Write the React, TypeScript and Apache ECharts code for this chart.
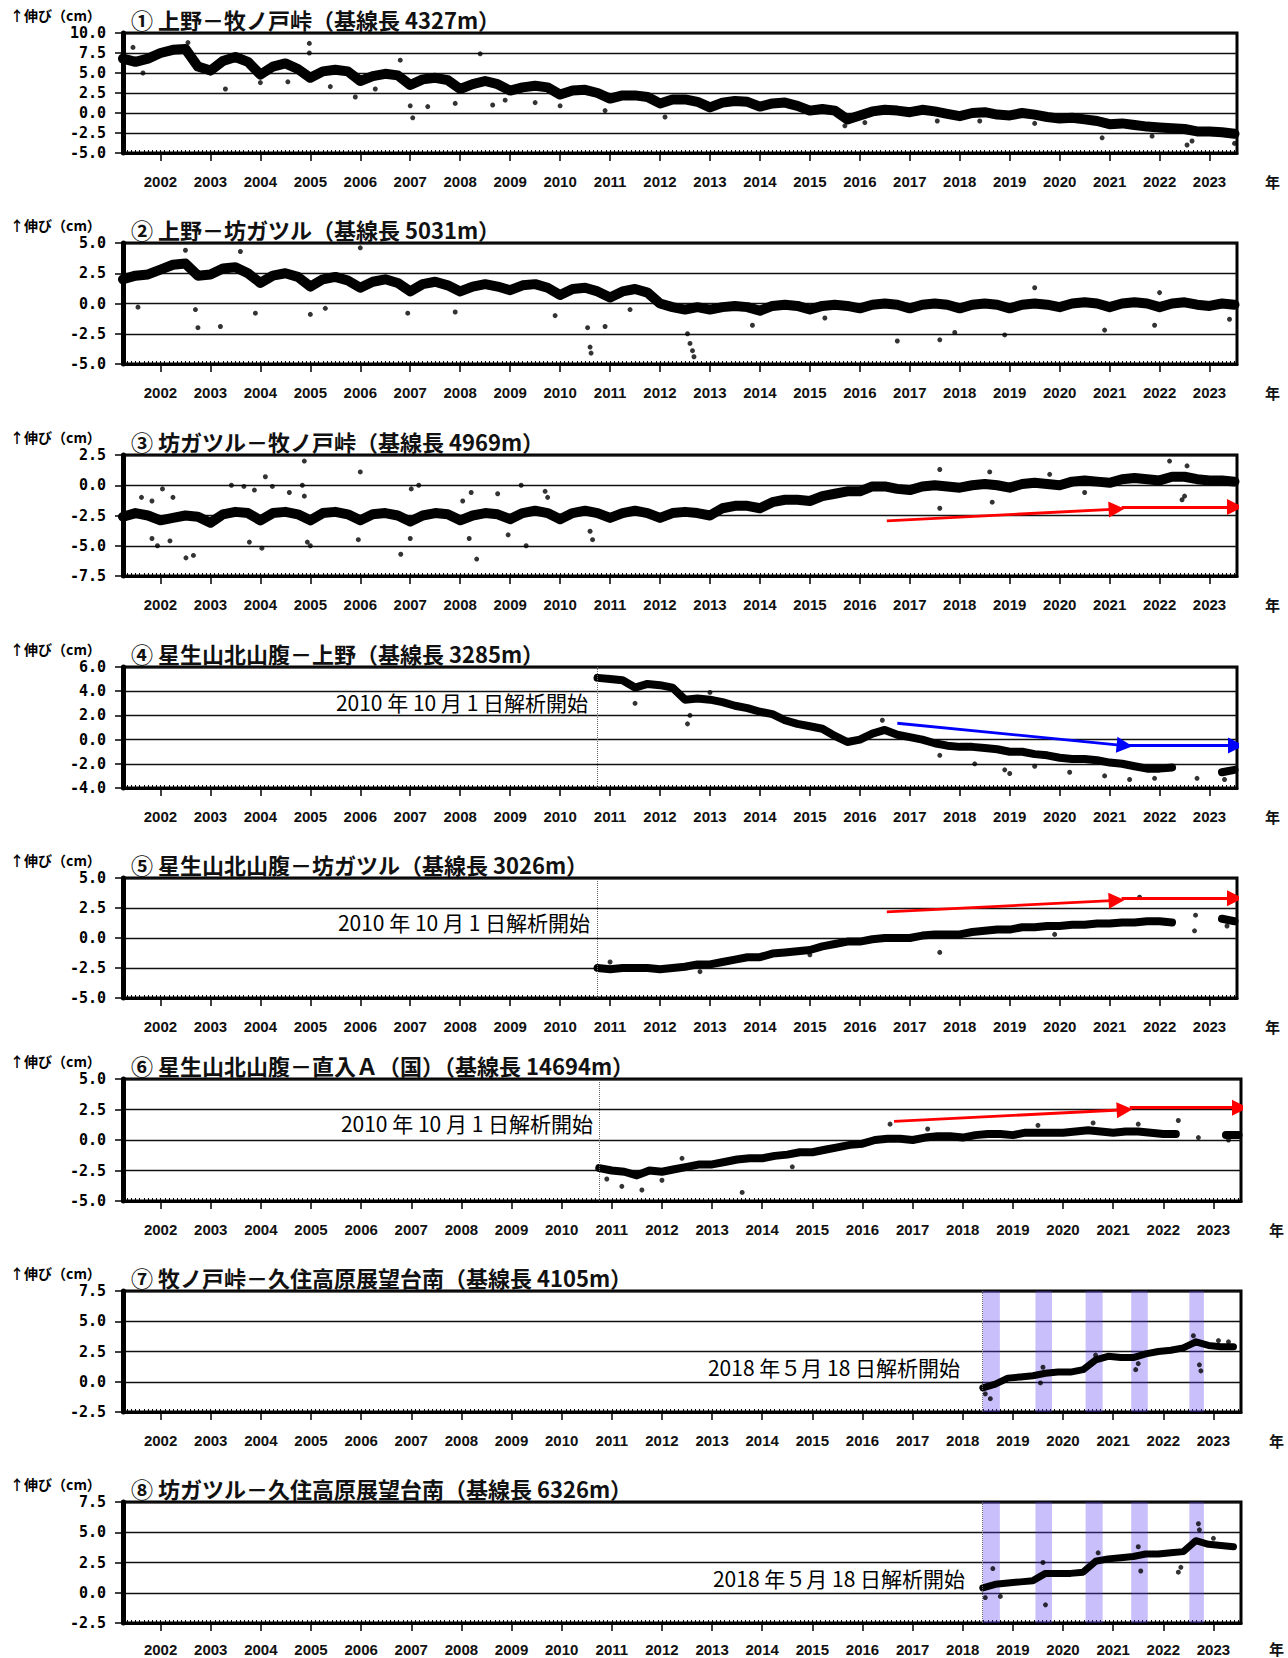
import React, { useEffect, useRef } from "react";
import * as echarts from "echarts";

// ---------------- data ----------------
const X_MIN = 2001.25;
const X_MAX = 2023.55;
const YEAR_TICKS = [2002, 2003, 2004, 2005, 2006, 2007, 2008, 2009, 2010, 2011, 2012, 2013, 2014, 2015, 2016, 2017, 2018, 2019, 2020, 2021, 2022, 2023];

const TITLES = [
  "① 上野－牧ノ戸峠（基線長 4327m）",
  "② 上野－坊ガツル（基線長 5031m）",
  "③ 坊ガツル－牧ノ戸峠（基線長 4969m）",
  "④ 星生山北山腹－上野（基線長 3285m）",
  "⑤ 星生山北山腹－坊ガツル（基線長 3026m）",
  "⑥ 星生山北山腹－直入Ａ（国）（基線長 14694m）",
  "⑦ 牧ノ戸峠－久住高原展望台南（基線長 4105m）",
  "⑧ 坊ガツル－久住高原展望台南（基線長 6326m）",
];

const Y_MIN = [-5, -5, -7.5, -4, -5, -5, -2.5, -2.5];
const Y_MAX = [10, 5, 2.5, 6, 5, 5, 7.5, 7.5];
const Y_STEP = [2.5, 2.5, 2.5, 2, 2.5, 2.5, 2.5, 2.5];

const SERIES_START = [2001.25, 2001.25, 2001.25, 2010.75, 2010.75, 2010.75, 2018.4, 2018.4];
const SERIES_STEP = 0.25;

const P1_VALUES = [
  6.8, 6.4, 6.8, 7.5, 7.9, 8.0, 5.8, 5.3, 6.5, 7.0, 6.4, 4.8, 5.8, 6.2, 5.5, 4.4,
  5.2, 5.4, 5.2, 4.0, 4.6, 4.9, 4.7, 3.5, 4.2, 4.4, 4.1, 3.0, 3.6, 4.0, 3.6, 2.8,
  3.2, 3.4, 3.2, 2.3, 2.8, 2.9, 2.5, 1.8, 2.2, 2.2, 2.0, 1.2, 1.7, 1.7, 1.4, 0.7,
  1.3, 1.5, 1.4, 0.8, 1.2, 1.3, 0.9, 0.3, 0.5, 0.3, -0.8, -0.3, 0.2, 0.4, 0.3, 0.1,
  0.4, 0.2, -0.1, -0.4, 0.0, 0.1, -0.2, -0.3, 0.0, -0.2, -0.5, -0.7, -0.6, -0.8, -1.0, -1.4,
  -1.3, -1.5, -1.7, -1.8, -1.9, -2.0, -2.3, -2.3, -2.4, -2.6,
];
const P2_VALUES = [
  2.0, 2.3, 2.4, 2.8, 3.2, 3.3, 2.3, 2.4, 2.9, 3.0, 2.5, 1.7, 2.3, 2.5, 2.2, 1.4,
  2.0, 2.2, 1.9, 1.3, 1.8, 2.0, 1.7, 1.0, 1.6, 1.8, 1.5, 1.0, 1.4, 1.6, 1.4, 1.1,
  1.5, 1.6, 1.3, 0.7, 1.2, 1.3, 1.0, 0.5, 1.0, 1.2, 0.9, 0.0, -0.3, -0.5, -0.3, -0.5,
  -0.3, -0.2, -0.3, -0.6, -0.2, -0.1, -0.2, -0.5, -0.2, -0.1, -0.2, -0.4, -0.1, 0.0, -0.1, -0.4,
  -0.1, 0.0, -0.1, -0.4, -0.1, 0.0, -0.1, -0.4, -0.1, 0.0, -0.1, -0.3, 0.0, 0.1, 0.0, -0.3,
  0.0, 0.1, 0.0, -0.3, 0.0, 0.1, -0.1, -0.2, 0.0, -0.1,
];
const P3_VALUES = [
  -2.6, -2.3, -2.5, -2.9, -2.7, -2.5, -2.6, -3.1, -2.4, -2.2, -2.3, -2.9, -2.3, -2.2, -2.4, -2.9,
  -2.3, -2.2, -2.4, -2.9, -2.4, -2.3, -2.5, -3.0, -2.5, -2.3, -2.4, -2.9, -2.5, -2.3, -2.4, -2.8,
  -2.3, -2.1, -2.3, -2.8, -2.3, -2.1, -2.3, -2.7, -2.3, -2.1, -2.3, -2.7, -2.3, -2.2, -2.3, -2.5,
  -1.9, -1.7, -1.7, -1.9, -1.4, -1.2, -1.2, -1.3, -0.9, -0.7, -0.5, -0.5, -0.1, -0.1, -0.3, -0.4,
  -0.1, 0.0, -0.1, -0.2, 0.0, 0.1, 0.0, -0.2, 0.1, 0.2, 0.1, 0.0, 0.3, 0.4, 0.3, 0.2,
  0.5, 0.6, 0.5, 0.4, 0.7, 0.7, 0.5, 0.4, 0.4, 0.3,
];
const P4_VALUES = [
  5.1, 5.0, 4.9, 4.3, 4.6, 4.5, 4.3, 3.3, 3.4, 3.3, 3.1, 2.8, 2.6, 2.3, 2.1, 1.6,
  1.3, 1.1, 0.9, 0.3, -0.2, 0.0, 0.5, 0.8, 0.4, 0.2, 0.0, -0.3, -0.5, -0.6, -0.6, -0.7,
  -0.8, -1.0, -1.0, -1.2, -1.3, -1.5, -1.6, -1.6, -1.7, -1.9, -2.0, -2.2, -2.4, -2.4, -2.3, null,
  -2.5, null, -2.7, -2.5,
];
const P5_VALUES = [
  -2.5, -2.6, -2.5, -2.5, -2.5, -2.6, -2.5, -2.4, -2.2, -2.2, -2.0, -1.8, -1.6, -1.6, -1.3, -1.2,
  -1.1, -1.0, -0.7, -0.5, -0.3, -0.3, -0.1, 0.0, 0.0, 0.0, 0.2, 0.3, 0.3, 0.3, 0.5, 0.6,
  0.7, 0.7, 0.9, 0.9, 1.0, 1.0, 1.1, 1.1, 1.2, 1.2, 1.3, 1.3, 1.4, 1.4, 1.3, null,
  1.3, null, 1.6, 1.4,
];
const P6_VALUES = [
  -2.3, -2.5, -2.6, -2.9, -2.5, -2.6, -2.4, -2.2, -2.0, -2.0, -1.8, -1.6, -1.5, -1.5, -1.3, -1.2,
  -1.0, -1.0, -0.8, -0.6, -0.4, -0.3, 0.0, 0.1, 0.1, 0.0, 0.2, 0.3, 0.3, 0.2, 0.4, 0.5,
  0.5, 0.4, 0.6, 0.6, 0.6, 0.6, 0.7, 0.8, 0.7, 0.6, 0.7, 0.7, 0.6, 0.5, 0.5, null,
  0.6, null, 0.4, 0.4,
];
const P7_VALUES = [
  -0.5, -0.2, 0.3, 0.4, 0.5, 0.7, 0.8, 0.8, 1.0, 1.8, 2.1, 2.0, 2.0, 2.3, 2.5, 2.6,
  2.8, 3.3, 3.0, 2.9, 2.9,
];
const P8_VALUES = [
  0.4, 0.7, 0.8, 0.9, 1.0, 1.6, 1.6, 1.6, 1.7, 2.6, 2.8, 2.9, 3.0, 3.2, 3.2, 3.3,
  3.4, 4.3, 4.0, 3.9, 3.8,
];

const P1_OUTLIERS = [
  [2001.45, 8.2], [2001.65, 5.0], [2002.55, 8.8], [2003.1, 5.5], [2003.3, 3.0], [2004.0, 3.8],
  [2004.55, 3.9], [2004.98, 8.7], [2004.98, 7.5], [2005.4, 3.3], [2005.9, 2.0], [2006.3, 3.0],
  [2006.8, 6.6], [2007.0, 0.9], [2007.05, -0.6], [2007.35, 0.8], [2007.9, 1.2], [2008.4, 7.4],
  [2008.65, 1.0], [2008.9, 1.6], [2009.5, 1.3], [2010.0, 0.9], [2010.9, 0.3], [2012.1, -0.5],
  [2015.7, -1.6], [2016.1, -1.2], [2017.55, -1.0], [2018.4, -1.0], [2019.5, -1.3],
  [2020.85, -3.1], [2021.85, -2.9], [2022.55, -4.0], [2022.65, -3.5], [2023.5, -3.8],
];
const P2_OUTLIERS = [
  [2001.55, -0.3], [2002.5, 4.4], [2002.7, -0.5], [2002.75, -2.0], [2003.2, -1.9], [2003.6, 4.3],
  [2003.9, -0.8], [2005.0, -0.9], [2005.3, -0.4], [2006.0, 4.6], [2006.95, -0.8], [2007.9, -0.7],
  [2009.9, -1.0], [2010.55, -2.0], [2010.6, -3.6], [2010.62, -4.1], [2010.9, -1.9], [2011.4, -0.5],
  [2012.55, -2.5], [2012.6, -3.3], [2012.65, -3.9], [2012.68, -4.4], [2013.85, -1.8], [2015.3, -1.2],
  [2016.75, -3.1], [2017.6, -3.0], [2017.9, -2.4], [2018.9, -2.6], [2019.5, 1.3], [2020.9, -2.2],
  [2021.9, -1.8], [2022.0, 0.9], [2023.4, -1.3],
];
const P3_OUTLIERS = [
  [2001.62, -1.0], [2001.83, -1.3], [2002.04, -0.3], [2002.25, -1.0], [2001.83, -4.4], [2001.94, -5.0],
  [2002.19, -4.6], [2002.51, -6.0], [2002.66, -5.8], [2003.42, 0.0], [2003.67, -0.1], [2003.88, -0.4],
  [2004.1, 0.7], [2004.24, -0.1], [2004.03, -5.2], [2003.78, -4.7], [2004.58, -0.6], [2004.88, 2.0],
  [2004.84, 0.0], [2004.88, -0.9], [2004.94, -4.7], [2005.0, -5.0], [2006.0, 1.1], [2005.96, -4.5],
  [2006.81, -5.7], [2007.02, -0.3], [2007.17, 0.0], [2007.0, -4.4], [2008.05, -1.3], [2008.22, -0.6],
  [2008.33, -6.1], [2008.18, -4.4], [2008.75, -0.7], [2009.22, 0.0], [2009.32, -5.0], [2008.96, -4.1],
  [2009.7, -0.5], [2009.75, -1.0], [2010.6, -3.8], [2010.65, -4.5], [2017.6, 1.3], [2017.6, -1.9],
  [2018.6, 1.1], [2018.65, -1.4], [2019.8, 0.9], [2020.5, -0.6], [2022.2, 2.0], [2022.55, 1.6],
  [2022.5, -0.9], [2022.45, -1.2],
];
const P4_OUTLIERS = [
  [2012.55, 1.3], [2012.6, 2.0], [2011.5, 3.0], [2013.0, 3.9], [2016.45, 1.6], [2017.6, -1.3],
  [2018.3, -2.0], [2018.9, -2.5], [2019.0, -2.8], [2019.5, -2.2], [2020.2, -2.7], [2020.9, -3.0],
  [2021.4, -3.3], [2021.9, -3.2], [2022.75, -3.2], [2023.3, -3.3],
];
const P5_OUTLIERS = [
  [2011.0, -2.0], [2012.8, -2.8], [2015.0, -1.4], [2017.6, -1.2], [2019.9, 0.3], [2021.6, 3.4],
  [2022.7, 0.6], [2022.72, 1.9], [2023.35, 1.0],
];
const P6_OUTLIERS = [
  [2010.9, -3.2], [2011.2, -3.8], [2011.6, -4.1], [2012.0, -3.3], [2012.4, -1.5], [2013.6, -4.3],
  [2014.6, -2.2], [2016.55, 1.3], [2017.3, 0.9], [2019.5, 1.2], [2020.6, 1.4], [2021.5, 1.3],
  [2022.3, 1.6], [2022.7, 0.2], [2023.3, 0.0],
];
const P7_OUTLIERS = [
  [2018.45, -1.0], [2018.55, -1.4], [2019.55, -0.1], [2019.6, 1.2], [2020.65, 2.2], [2021.45, 1.0],
  [2021.5, 1.5], [2022.6, 3.8], [2022.72, 1.4], [2022.75, 0.9], [2023.1, 3.4], [2023.3, 3.3],
];
const P8_OUTLIERS = [
  [2018.45, -0.4], [2018.6, 2.0], [2018.75, -0.3], [2019.6, 2.5], [2019.65, -1.0], [2020.7, 3.3],
  [2021.5, 3.8], [2021.55, 1.8], [2022.3, 1.7], [2022.35, 2.1], [2022.7, 5.7], [2022.72, 5.2],
  [2023.0, 4.5],
];

// trend arrows (start, end) in data coordinates
const P3_ARROWS = [[[2016.54, -2.94], [2021.14, -1.97]], [[2021.24, -1.8], [2023.51, -1.8]]];
const P4_ARROWS = [[[2016.75, 1.35], [2021.3, -0.49]], [[2021.3, -0.49], [2023.53, -0.49]]];
const P5_ARROWS = [[[2016.54, 2.17], [2021.14, 3.14]], [[2021.24, 3.32], [2023.51, 3.32]]];
const P6_ARROWS = [[[2016.63, 1.52], [2021.23, 2.48]], [[2021.33, 2.65], [2023.53, 2.65]]];

const ANALYSIS_START = [null, null, null, 2010.75, 2010.75, 2010.75, 2018.38, 2018.38];
const NOTES = [null, null, null,
  "2010 年 10 月 1 日解析開始", "2010 年 10 月 1 日解析開始", "2010 年 10 月 1 日解析開始",
  "2018 年５月 18 日解析開始", "2018 年５月 18 日解析開始"];

const BANDS = [[2018.40, 2018.74], [2019.45, 2019.78], [2020.45, 2020.79], [2021.36, 2021.69], [2022.52, 2022.81]];

// ---------------- layout ----------------
const GRID_LEFT = 123;
const GRID_TOPS = [33, 243, 455, 667, 878, 1079, 1291, 1502];
const GRID_HEIGHTS = [120, 121, 121, 121, 120, 122, 121, 121];
const GRID_WIDTHS = [1114, 1114, 1114, 1114, 1114, 1118, 1118, 1118];
const LABEL_MARGINS = [21, 21, 21, 21, 21, 21, 21, 19];
const YEAR_MARK_OFFSET = [28, 28, 28, 28, 28, 28, 28, 25];
const NOTE_POS = [null, null, null, [588, 702], [590, 922], [593, 1123], [960, 1367], [965, 1578]];
const LINE_WIDTHS = [10, 10, 10, 8, 8, 8, 7, 7];

const VALUES = [P1_VALUES, P2_VALUES, P3_VALUES, P4_VALUES, P5_VALUES, P6_VALUES, P7_VALUES, P8_VALUES];
const OUTLIERS = [P1_OUTLIERS, P2_OUTLIERS, P3_OUTLIERS, P4_OUTLIERS, P5_OUTLIERS, P6_OUTLIERS, P7_OUTLIERS, P8_OUTLIERS];
const ARROWS: any[] = [null, null, P3_ARROWS, P4_ARROWS, P5_ARROWS, P6_ARROWS, null, null];
const ARROW_COLORS = [null, null, "#ff0000", "#0000ff", "#ff0000", "#ff0000", null, null];

function buildOption() {
  const grid: any[] = [];
  const xAxis: any[] = [];
  const yAxis: any[] = [];
  const series: any[] = [];
  const graphic: any[] = [];

  for (let i = 0; i < 8; i++) {
    const top = GRID_TOPS[i];
    const h = GRID_HEIGHTS[i];
    const w = GRID_WIDTHS[i];
    grid.push({
      left: GRID_LEFT, top, width: w, height: h,
      show: true, borderColor: "#000", borderWidth: 3, backgroundColor: "#fff",
    });
    xAxis.push({
      type: "value", gridIndex: i, min: X_MIN, max: X_MAX, position: "bottom",
      axisLine: { show: true, onZero: false, lineStyle: { color: "#000", width: 3 } },
      axisTick: { show: true, customValues: YEAR_TICKS, length: 8, lineStyle: { color: "#000", width: 1.5 } },
      axisLabel: {
        show: true, customValues: YEAR_TICKS, margin: LABEL_MARGINS[i], color: "#111",
        fontSize: 15, fontWeight: "bold", fontFamily: "Liberation Sans",
        formatter: (v: number) => String(Math.round(v)),
      },
      splitLine: { show: false },
    });
    xAxis.push({
      type: "value", gridIndex: i, min: X_MIN, max: X_MAX, interval: 1 / 12, position: "bottom",
      axisLine: { show: false, onZero: false },
      axisTick: { show: true, inside: true, length: 3, lineStyle: { color: "#000", width: 1 } },
      axisLabel: { show: false },
      splitLine: { show: false },
    });
    yAxis.push({
      type: "value", gridIndex: i, min: Y_MIN[i], max: Y_MAX[i], interval: Y_STEP[i],
      axisLine: { show: true, onZero: false, lineStyle: { color: "#000", width: 5 } },
      axisTick: { show: true, length: 8, lineStyle: { color: "#000", width: 1.5 } },
      axisLabel: {
        margin: 17, color: "#000", fontSize: 15, fontWeight: "bold", fontFamily: "DejaVu Sans Mono",
        formatter: (v: number) => v.toFixed(1),
      },
      splitLine: { show: true, lineStyle: { color: "#111", width: 1.3 } },
    });

    const xa = i * 2;
    const start = SERIES_START[i];
    const lineData = VALUES[i].map((v, k) => [start + k * SERIES_STEP, v]);
    const lineSeries: any = {
      type: "line", xAxisIndex: xa, yAxisIndex: i, data: lineData,
      symbol: "none", showSymbol: false, connectNulls: false, silent: true, z: 3,
      lineStyle: { color: "#000", width: LINE_WIDTHS[i], cap: "round", join: "round" },
    };
    if (ANALYSIS_START[i] != null) {
      lineSeries.markLine = {
        silent: true, symbol: ["none", "none"], label: { show: false },
        lineStyle: { type: "dotted", color: "#666", width: 1 },
        data: [{ xAxis: ANALYSIS_START[i] }],
      };
    }
    series.push(lineSeries);
    series.push({
      type: "scatter", xAxisIndex: xa, yAxisIndex: i, data: OUTLIERS[i],
      symbolSize: 5, itemStyle: { color: "#000" }, silent: true, z: 3,
    });
    if (ARROWS[i]) {
      series.push({
        type: "lines", coordinateSystem: "cartesian2d", xAxisIndex: xa, yAxisIndex: i,
        data: ARROWS[i].map((c: any) => ({ coords: c })),
        symbol: ["none", "triangle"], symbolSize: 16, silent: true, z: 6,
        lineStyle: { color: ARROW_COLORS[i], width: 2.8, opacity: 1 },
        itemStyle: { color: ARROW_COLORS[i] },
      });
    }
    if (i >= 6) {
      series.push({
        type: "scatter", xAxisIndex: xa, yAxisIndex: i, data: [], z: 5, silent: true,
        markArea: {
          silent: true,
          itemStyle: { color: "rgba(90,60,240,0.33)" },
          data: BANDS.map((b) => [{ xAxis: b[0] }, { xAxis: b[1] }]),
        },
      });
    }

    graphic.push({
      type: "text", x: 10, y: top - 18,
      style: { text: "↑伸び（cm）", font: 'bold 14px "Noto Sans CJK JP"', fill: "#000", textVerticalAlign: "middle" },
    });
    graphic.push({
      type: "text", x: 131, y: top - 14,
      style: { text: TITLES[i], font: 'bold 22px "Noto Sans CJK JP"', fill: "#111", textVerticalAlign: "middle" },
    });
    graphic.push({
      type: "text", x: GRID_LEFT + w + 28, y: top + h + YEAR_MARK_OFFSET[i],
      style: { text: "年", font: 'bold 15px "Noto Sans CJK JP"', fill: "#111", textVerticalAlign: "middle" },
    });
    if (NOTES[i]) {
      const p = NOTE_POS[i] as number[];
      graphic.push({
        type: "text", x: p[0], y: p[1], z: 10,
        style: { text: NOTES[i], font: '21px "Noto Sans CJK JP"', fill: "#000", textAlign: "right", textVerticalAlign: "middle" },
      });
    }
  }

  return { animation: false, backgroundColor: "#fff", grid, xAxis, yAxis, series, graphic };
}

export default function App() {
  const ref = useRef<HTMLDivElement>(null);
  useEffect(() => {
    document.body.style.margin = "0";
    if (!ref.current) return;
    const chart = echarts.init(ref.current, undefined, { renderer: "svg" });
    chart.setOption(buildOption() as any);
    return () => chart.dispose();
  }, []);
  return <div ref={ref} style={{ width: 1288, height: 1658 }} />;
}
